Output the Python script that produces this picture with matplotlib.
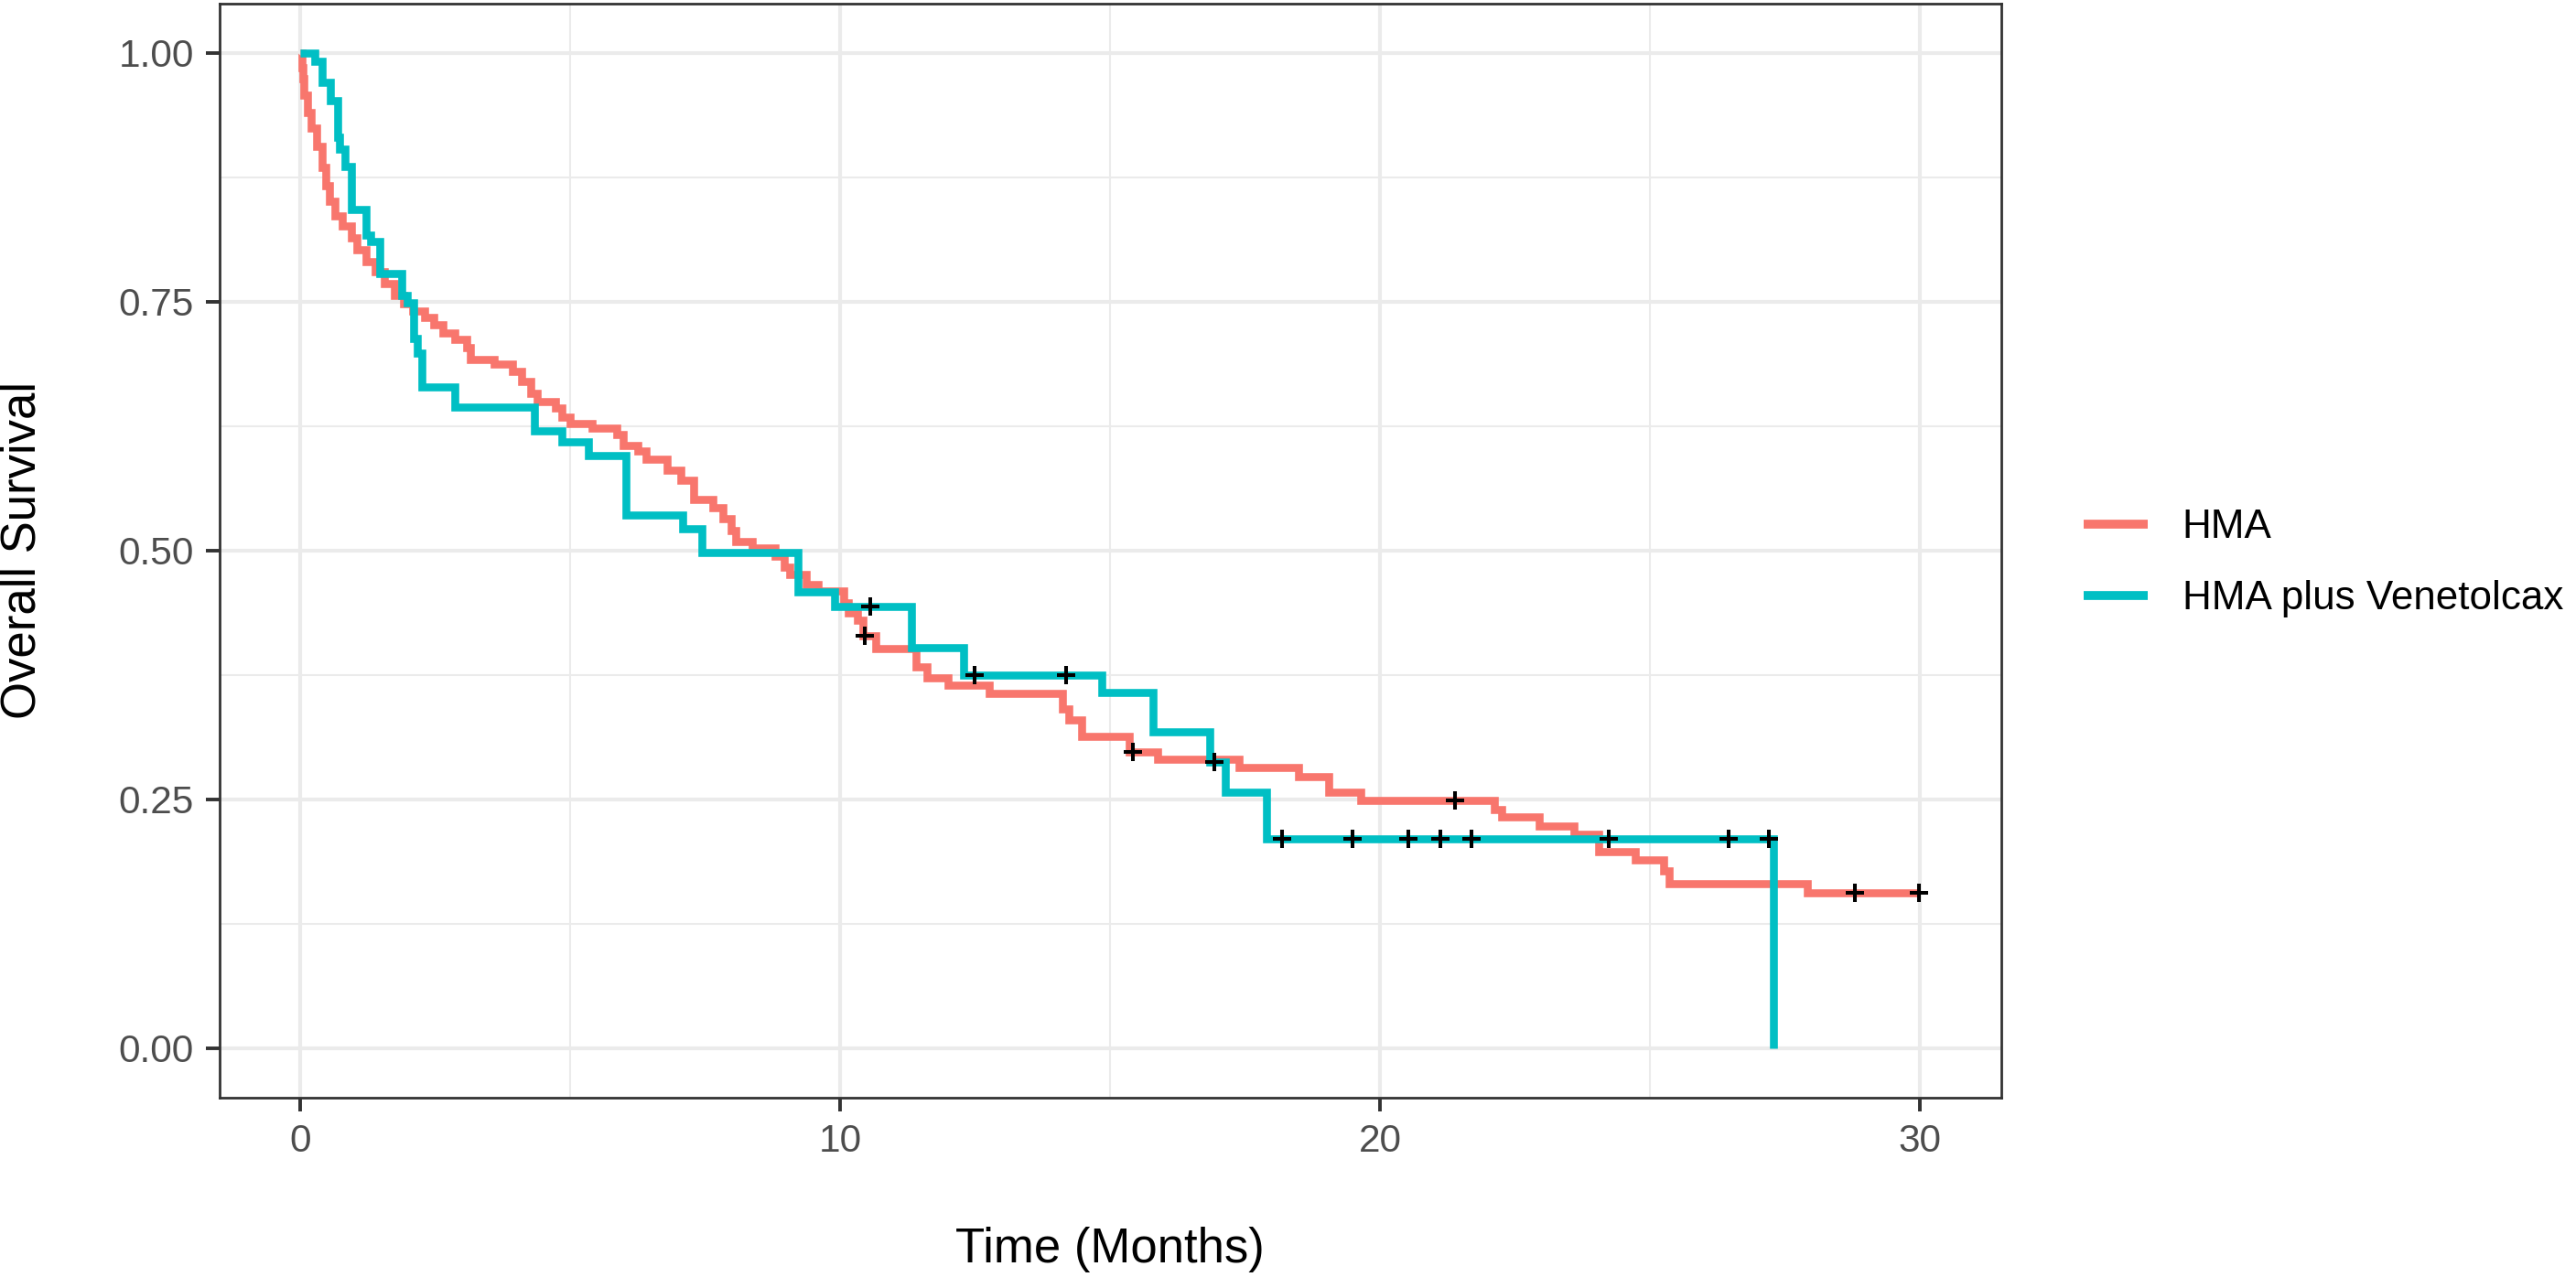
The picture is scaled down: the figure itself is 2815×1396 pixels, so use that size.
import numpy as np
import matplotlib
matplotlib.use("Agg")
import matplotlib.pyplot as plt
from matplotlib.ticker import FixedLocator
from matplotlib.lines import Line2D

plt.rcParams['font.family'] = ['Liberation Sans', 'DejaVu Sans']

# ---------------- data ----------------
group_labels = ["HMA", "HMA plus Venetolcax"]
group_colors = ["#F8766D", "#00BFC4"]

hma_time = [0, 0.02, 0.04, 0.06, 0.12, 0.20, 0.30, 0.40, 0.46, 0.54, 0.63, 0.77, 0.94, 1.05,
            1.22, 1.39, 1.56, 1.73, 1.90, 2.07, 2.29, 2.46, 2.63, 2.86, 3.08, 3.14, 3.59, 3.93,
            4.10, 4.27, 4.38, 4.72, 4.84, 5.00, 5.40, 5.85, 5.97, 6.25, 6.40, 6.79, 7.04, 7.29,
            7.63, 7.83, 7.97, 8.06, 8.37, 8.79, 8.96, 9.07, 9.36, 9.58, 10.06, 10.15, 10.32,
            10.42, 10.65, 11.41, 11.60, 12.00, 12.75, 14.11, 14.23, 14.47, 15.36, 15.87, 17.38,
            18.48, 19.05, 19.64, 22.11, 22.26, 22.94, 23.59, 24.05, 24.72, 25.26, 25.35, 27.92,
            30.0]
hma_surv = [1.0, 0.985, 0.974, 0.958, 0.940, 0.925, 0.906, 0.885, 0.867, 0.851, 0.836, 0.826,
            0.814, 0.802, 0.790, 0.780, 0.768, 0.756, 0.748, 0.741, 0.734, 0.727, 0.719, 0.712,
            0.704, 0.692, 0.687, 0.680, 0.670, 0.658, 0.650, 0.643, 0.634, 0.628, 0.623, 0.617,
            0.606, 0.600, 0.592, 0.581, 0.571, 0.551, 0.543, 0.532, 0.520, 0.509, 0.503, 0.494,
            0.483, 0.476, 0.466, 0.459, 0.447, 0.437, 0.430, 0.414, 0.401, 0.383, 0.372, 0.365,
            0.356, 0.341, 0.330, 0.313, 0.298, 0.290, 0.282, 0.273, 0.257, 0.249, 0.240, 0.232,
            0.223, 0.215, 0.197, 0.189, 0.178, 0.165, 0.156, 0.156]
hma_censor = [10.46, 15.42, 21.39, 28.79, 29.98]

vene_time = [0, 0.26, 0.40, 0.55, 0.68, 0.72, 0.82, 0.94, 1.22, 1.30, 1.47, 1.87, 1.98, 2.10,
             2.16, 2.24, 2.85, 4.33, 4.84, 5.34, 6.02, 7.07, 7.43, 9.21, 9.90, 11.31, 12.28,
             14.84, 15.80, 16.85, 17.14, 17.90, 27.29]
vene_surv = [1.0, 0.992, 0.971, 0.952, 0.915, 0.903, 0.886, 0.843, 0.817, 0.811, 0.778, 0.756,
             0.749, 0.713, 0.698, 0.664, 0.644, 0.620, 0.609, 0.595, 0.536, 0.522, 0.498, 0.458,
             0.444, 0.402, 0.375, 0.357, 0.318, 0.287, 0.257, 0.210, 0.0]
vene_censor = [10.55, 12.49, 14.19, 16.92, 18.18, 19.49, 20.52, 21.12, 21.69, 24.23, 26.46, 27.20]

x_ticks = [0, 10, 20, 30]
x_tick_labels = ["0", "10", "20", "30"]
y_ticks = [0.0, 0.25, 0.50, 0.75, 1.0]
y_tick_labels = ["0.00", "0.25", "0.50", "0.75", "1.00"]
x_title = "Time (Months)"
y_title = "Overall Survival"

# ---------------- figure ----------------
W, H = 2815, 1396
fig = plt.figure(figsize=(W / 100, H / 100), dpi=100)
ax = fig.add_axes([240 / W, 1 - 1200 / H, (2186.5 - 240) / W, (1200 - 3.6) / H])

series = [(hma_time, hma_surv, hma_censor), (vene_time, vene_surv, vene_censor)]
handles = []
for (t, s, c), col, lab in zip(series, group_colors, group_labels):
    ax.plot(t, s, drawstyle='steps-post', color=col, lw=6.2,
            solid_capstyle='butt', solid_joinstyle='miter', zorder=3)
    handles.append(Line2D([], [], color=col, lw=7, solid_capstyle='butt'))

for (t, s, c) in series:
    ta = np.asarray(t)
    sa = np.asarray(s)
    idx = np.searchsorted(ta, np.asarray(c), side='right') - 1
    ax.plot(c, sa[idx], linestyle='none', marker='+', markersize=14.5,
            markeredgewidth=2.9, color='black', zorder=5)

ax.set_xlim(-1.5, 31.5)
ax.set_ylim(-0.05, 1.05)
ax.xaxis.set_major_locator(FixedLocator(x_ticks))
ax.set_xticklabels(x_tick_labels)
ax.yaxis.set_major_locator(FixedLocator(y_ticks))
ax.set_yticklabels(y_tick_labels)
ax.xaxis.set_minor_locator(FixedLocator([5, 15, 25]))
ax.yaxis.set_minor_locator(FixedLocator([0.125, 0.375, 0.625, 0.875]))

ax.set_axisbelow(True)
ax.grid(which='major', color='#EBEBEB', lw=3.0)
ax.grid(which='minor', color='#EBEBEB', lw=1.5)
ax.tick_params(which='major', length=10.8, width=2.8, color='#333333', pad=9.4,
               labelsize=30.5, labelcolor='#4D4D4D')
ax.tick_params(which='minor', length=0)
for sp in ax.spines.values():
    sp.set_color('#333333')
    sp.set_linewidth(2.0)

fig.text(1213 / W, 1 - 1380 / H, x_title, ha='center', va='baseline', fontsize=38, color='black')
fig.text(25 / W, 1 - 601 / H, y_title, ha='center', va='center', rotation=90,
         fontsize=38, color='black')

fig.legend(handles, group_labels, loc='center left', bbox_to_anchor=(2277 / W, 1 - 615.5 / H),
           frameon=False, borderpad=0, borderaxespad=0, handlelength=1.59,
           handletextpad=0.86, labelspacing=0.84, fontsize=31.7)

fig.savefig("out.png", dpi=100, facecolor='white')
